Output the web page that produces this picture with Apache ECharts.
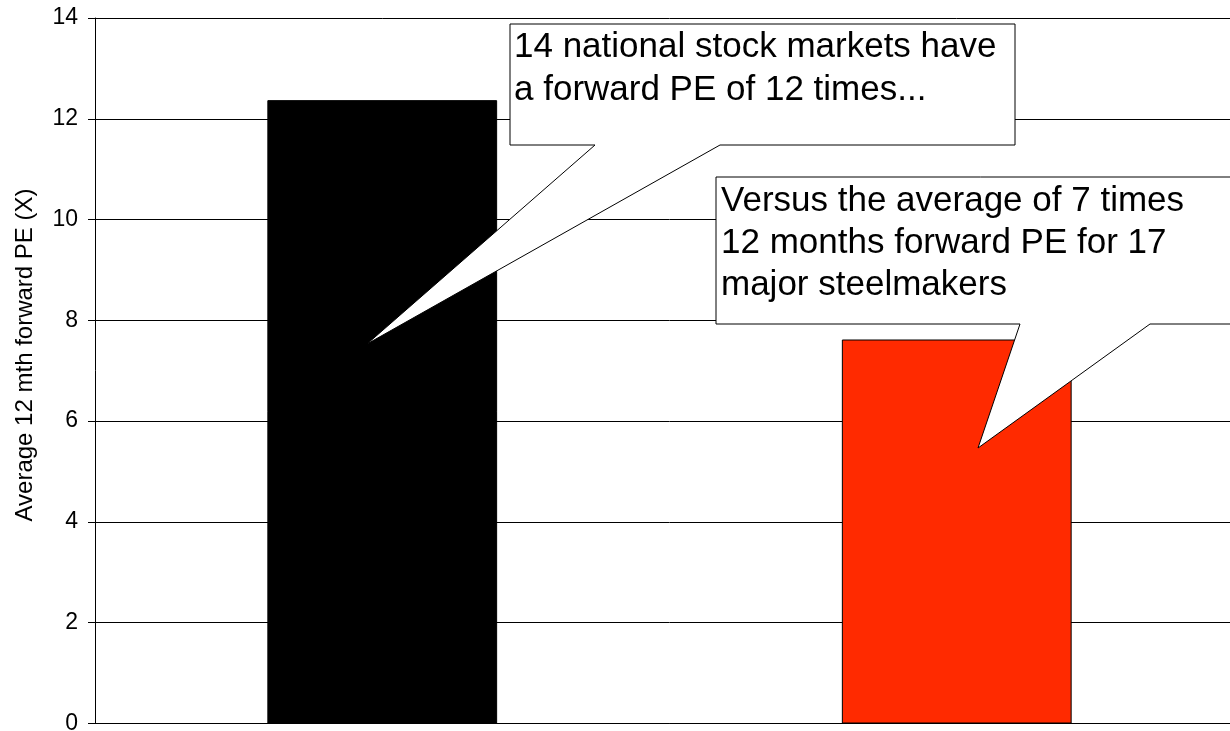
<!DOCTYPE html>
<html>
<head>
<meta charset="utf-8">
<script src="https://cdn.jsdelivr.net/npm/echarts@6/dist/echarts.min.js"></script>
<style>
  html, body { margin: 0; padding: 0; background: #fff; overflow: hidden; }
  /* plot area runs a little past the right edge of the window */
  #chart { width: 1244px; height: 731px; }
</style>
</head>
<body>
<div id="chart"></div>
<script>
// Average 12-month forward PE: national stock markets vs major steelmakers
const categories = ['National stock markets', 'Major steelmakers'];
const peValues = [12.37, 7.62];
const barColors = ['#000000', '#ff2a00'];
const yTicks = { min: 0, max: 14, interval: 2 };
const axisTitle = 'Average 12 mth forward PE (X)';
const noteMarkets = ['14 national stock markets have', 'a forward PE of 12 times...'];
const noteSteel = ['Versus the average of 7 times', '12 months forward PE for 17', 'major steelmakers'];

const FONT = '"Liberation Sans", Arial, Helvetica, sans-serif';

const chart = echarts.init(document.getElementById('chart'), null, { renderer: 'canvas' });

// Speech-bubble outline: rectangle with a wedge pointing down to a tip
function bubble(box, baseL, baseR, tip) {
  const [x0, y0, x1, y1] = box;
  return {
    type: 'polygon',
    z: 100,
    shape: {
      points: [[x0, y0], [x1, y0], [x1, y1], [baseR, y1], tip, [baseL, y1], [x0, y1]]
    },
    style: { fill: '#ffffff', stroke: '#000000', lineWidth: 1 }
  };
}

function lines(textLines, x, yStart, step) {
  return textLines.map((t, i) => ({
    type: 'text',
    z: 101,
    x: x,
    y: yStart + i * step,
    style: {
      text: t,
      fill: '#000',
      font: '35px ' + FONT,
      align: 'left',
      verticalAlign: 'middle'
    }
  }));
}

const option = {
  backgroundColor: '#ffffff',
  animation: false,
  grid: {
    left: 95, right: 0, top: 18, bottom: 7.5,
    containLabel: false,
    outerBoundsMode: 'none'
  },
  xAxis: {
    type: 'category',
    data: categories,
    axisLine: { show: true, lineStyle: { color: '#000', width: 1 } },
    axisTick: { show: false },
    axisLabel: { show: false },
    splitLine: { show: false }
  },
  yAxis: {
    type: 'value',
    min: yTicks.min,
    max: yTicks.max,
    interval: yTicks.interval,
    axisLine: { show: true, lineStyle: { color: '#000', width: 1 } },
    axisTick: { show: true, inside: false, length: 7, lineStyle: { color: '#000' } },
    axisLabel: { color: '#000', fontSize: 23, fontFamily: FONT, margin: 17 },
    splitLine: { show: true, lineStyle: { color: '#000', width: 1 } }
  },
  series: [{
    type: 'bar',
    barWidth: '40%',
    data: peValues.map((v, i) => ({
      value: v,
      itemStyle: { color: barColors[i], borderColor: '#000', borderWidth: 1 }
    })),
    label: { show: false }
  }],
  graphic: [
    {
      type: 'text',
      x: 25,
      y: 355,
      rotation: Math.PI / 2,
      style: {
        text: axisTitle,
        fill: '#000',
        font: '24px ' + FONT,
        align: 'center',
        verticalAlign: 'middle'
      }
    },
    bubble([510, 24, 1015, 145], 595, 720, [367, 344]),
    ...lines(noteMarkets, 514, 47, 43),
    bubble([716, 177, 1250, 324], 1020, 1150, [978, 448]),
    ...lines(noteSteel, 721, 201, 42)
  ]
};

chart.setOption(option);
</script>
</body>
</html>
